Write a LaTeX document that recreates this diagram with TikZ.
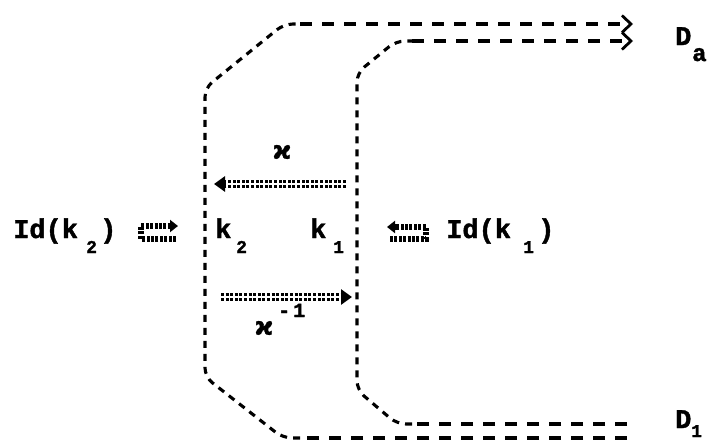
\documentclass[tikz,border=0pt]{standalone}
\usepackage{fontspec}
\usetikzlibrary{arrows.meta}
\newfontfamily\dotmono{Liberation Mono Bold}[FakeBold=1.6]
\newfontfamily\greekf{DejaVu Sans Bold}[FakeBold=1.2]
\tikzset{
  txt/.style={inner sep=0pt, anchor=base west, font=\dotmono\fontsize{27}{27}\selectfont},
  subt/.style={inner sep=0pt, anchor=base west, font=\dotmono\fontsize{18}{18}\selectfont},
  suba/.style={inner sep=0pt, anchor=base west, font=\dotmono\fontsize{24}{24}\selectfont},
  supt/.style={inner sep=0pt, anchor=base west, font=\dotmono\fontsize{20}{20}\selectfont},
  kap/.style={inner sep=0pt, font=\greekf\fontsize{25}{25}\selectfont},
  hline/.style={line width=3.1pt, dash pattern=on 12pt off 10pt},
  vline/.style={line width=3.1pt, dash pattern=on 7pt off 6pt, rounded corners=9pt},
  tipr/.style={-{Straight Barb[length=9pt,width=17pt,line width=2.8pt]}},
  dotarrow/.style={line width=8pt, dash pattern=on 3pt off 1.6pt, -{Triangle[length=11pt,width=15pt]}},
  dotgap/.style={white, line width=1.3pt},
  hookarrow/.style={line width=5.5pt, dash pattern=on 3pt off 1.4pt, -{Triangle[length=8pt,width=12pt]}},
}
\begin{document}
\begin{tikzpicture}[x=1pt,y=-1pt]
\useasboundingbox (0,0) rectangle (709,442);
% labels
\node[txt] (id2a) at (13,238) {Id(k};
\node[subt] (id2s) at (86,253) {2};
\node[txt] (id2c) at (100,238) {)};
\node[txt] (k2) at (215,238) {k};
\node[subt] (k2s) at (236,253) {2};
\node[txt] (k1) at (310,238) {k};
\node[subt] (k1s) at (333,253) {1};
\node[txt] (id1a) at (446,238) {Id(k};
\node[subt] (id1s) at (523,253) {1};
\node[txt] (id1c) at (538,238) {)};
\node[txt] (Da) at (675,45) {D};
\node[suba] (Das) at (692,61) {a};
\node[txt] (D1) at (675,428) {D};
\node[subt] (D1s) at (691,437) {1};
\node[kap] (kup) at (282,152) {ϰ};
\node[kap] (klo) at (264,328) {ϰ};
\node[supt] (kminus) at (278,317) {-};
\node[supt] (kone) at (293,317) {1};
% outer dashed path
\coordinate (ob1) at (627,438);
\coordinate (obm) at (300,438);
\coordinate (ob2) at (283,438);
\coordinate (ob3) at (205,377);
\coordinate (ot3) at (205,88);
\coordinate (ot2) at (284,24);
\coordinate (otm) at (300,24);
\coordinate (ot1) at (633,24);
\draw[hline] (ob1) -- (obm);
\draw[vline] (obm) -- (ob2) -- (ob3) -- (ot3) -- (ot2) -- (otm);
\draw[hline,tipr] (otm) -- (ot1);
% inner dashed path
\coordinate (ib1) at (627,424);
\coordinate (ibm) at (412,424);
\coordinate (ib2) at (397,424);
\coordinate (ib3) at (357,390);
\coordinate (it3) at (357,73);
\coordinate (it2) at (396,41);
\coordinate (itm) at (412,41);
\coordinate (it1) at (633,41);
\draw[hline] (ib1) -- (ibm);
\draw[vline] (ibm) -- (ib2) -- (ib3) -- (it3) -- (it2) -- (itm);
\draw[hline,tipr] (itm) -- (it1);
% kappa arrows
\coordinate (ua1) at (346,184);
\coordinate (ua2) at (214,184);
\coordinate (ua3) at (227,184);
\coordinate (la1) at (221,297);
\coordinate (la2) at (352,297);
\coordinate (la3) at (339,297);
\draw[dotarrow] (ua1) -- (ua2);
\draw[dotgap] (ua1) -- (ua3);
\draw[dotarrow] (la1) -- (la2);
\draw[dotgap] (la1) -- (la3);
% hook symbols
\coordinate (hl1) at (176,239);
\coordinate (hl2) at (141,239);
\coordinate (hl3) at (141,226);
\coordinate (hl4) at (178,226);
\draw[hookarrow] (hl1) -- (hl2) -- (hl3) -- (hl4);
\coordinate (hr1) at (390,239);
\coordinate (hr2) at (426,239);
\coordinate (hr3) at (426,227);
\coordinate (hr4) at (387,227);
\draw[hookarrow] (hr1) -- (hr2) -- (hr3) -- (hr4);
\end{tikzpicture}
\end{document}
